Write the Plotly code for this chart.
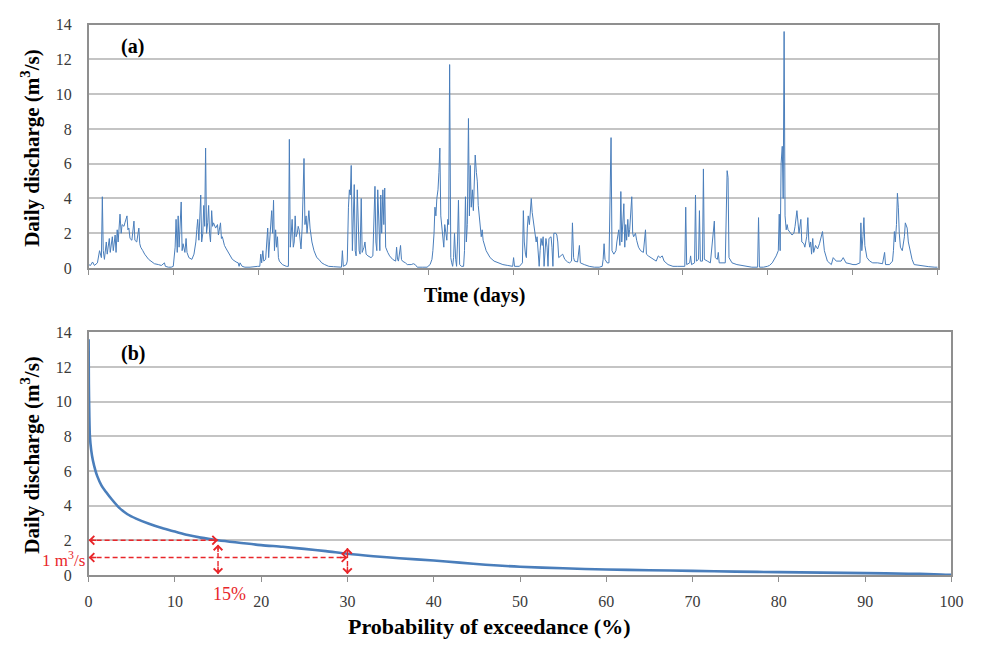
import plotly.graph_objects as go

# ---------------- data ----------------
# (a) daily discharge hydrograph: (day, discharge m3/s) vertices, ten years of record
hydrograph_pts = [
    # year 1
    (0, 0.2), (8, 0.15), (17, 0.35), (25, 0.15), (38, 0.3), (47, 1.0), (55, 0.6), (59, 4.1), (63, 1.0),
    (68, 0.5), (76, 1.5), (80, 0.8), (89, 1.7), (93, 0.9), (102, 1.8), (106, 1.0), (114, 1.9), (118, 0.9),
    (123, 2.2), (127, 1.5), (135, 3.1), (140, 2.0), (144, 2.5), (152, 2.4), (156, 2.6), (165, 3.0),
    (169, 2.2), (173, 2.3), (178, 1.7), (186, 1.6), (195, 2.7), (199, 1.6), (207, 1.5), (216, 2.3),
    (220, 1.4), (224, 1.2), (233, 1.0), (241, 0.8), (258, 0.5), (271, 0.35), (283, 0.25), (300, 0.2),
    (313, 0.15), (326, 0.3), (330, 0.1), (343, 0.05), (355, 0.05),
    # year 2
    (364, 0.1), (368, 0.5), (372, 1.2), (376, 2.8), (381, 0.9), (385, 3.0), (389, 1.2), (398, 3.8),
    (402, 1.0), (406, 1.4), (414, 0.9), (419, 1.7), (423, 0.9), (431, 0.6), (444, 0.5), (453, 0.8),
    (461, 1.5), (465, 2.2), (469, 2.8), (474, 1.6), (482, 4.2), (486, 1.5), (491, 2.0), (495, 3.6),
    (499, 2.4), (503, 6.9), (507, 2.0), (512, 2.6), (516, 3.6), (520, 2.0), (524, 1.5), (529, 3.3),
    (533, 2.4), (537, 2.6), (546, 2.3), (554, 2.5), (558, 1.9), (567, 2.6), (571, 1.7), (575, 1.8),
    (584, 1.3), (592, 1.1), (605, 0.8), (618, 0.5), (634, 0.35), (643, 0.3), (647, 0.1), (651, 0.3),
    (660, 0.1), (672, 0.05), (694, 0.05), (715, 0.1),
    # year 3
    (727, 0.1), (736, 0.1), (740, 0.8), (744, 0.3), (749, 1.0), (753, 0.4), (761, 0.5), (770, 2.3),
    (774, 0.6), (778, 1.5), (787, 3.3), (791, 2.0), (795, 3.9), (799, 1.0), (804, 2.2), (808, 1.2),
    (812, 1.8), (816, 0.6), (820, 0.4), (833, 0.2), (850, 0.1), (859, 0.1), (863, 7.4), (867, 1.2),
    (871, 2.0), (875, 2.8), (880, 1.2), (884, 1.5), (888, 3.0), (892, 1.8), (897, 2.0), (901, 2.4),
    (905, 2.2), (909, 1.6), (913, 1.1), (918, 2.3), (926, 6.3), (930, 2.5), (935, 3.0), (939, 2.0),
    (943, 2.5), (947, 3.3), (952, 2.3), (960, 1.5), (969, 1.0), (981, 0.6), (990, 0.5), (1002, 0.3),
    (1015, 0.2), (1032, 0.1), (1053, 0.08), (1074, 0.05), (1087, 0.05),
    # year 4
    (1091, 1.0), (1095, 0.1), (1108, 0.2), (1112, 0.4), (1117, 3.5), (1121, 4.5), (1125, 4.2),
    (1129, 5.9), (1134, 1.0), (1138, 3.5), (1142, 4.8), (1146, 1.0), (1150, 0.7), (1155, 4.5),
    (1159, 3.0), (1163, 1.0), (1167, 0.8), (1172, 4.0), (1176, 0.9), (1184, 1.2), (1188, 1.5),
    (1193, 0.8), (1201, 0.7), (1214, 0.6), (1222, 0.7), (1231, 4.7), (1235, 1.5), (1239, 1.0),
    (1243, 4.5), (1248, 2.0), (1252, 1.0), (1256, 4.2), (1260, 2.0), (1265, 4.5), (1269, 2.5),
    (1273, 4.6), (1277, 1.2), (1286, 0.9), (1294, 0.7), (1307, 0.5), (1320, 0.4), (1324, 1.2),
    (1328, 0.5), (1332, 0.4), (1341, 1.3), (1345, 0.5), (1349, 0.4), (1362, 0.3), (1370, 0.2),
    (1387, 0.2), (1396, 0.25), (1404, 0.2), (1413, 0.05), (1434, 0.05), (1455, 0.05),
    # year 5
    (1468, 0.2), (1476, 0.5), (1480, 1.0), (1485, 2.0), (1489, 3.5), (1493, 3.0), (1497, 4.0),
    (1502, 4.5), (1506, 5.5), (1510, 6.9), (1514, 3.0), (1519, 2.2), (1523, 1.5), (1527, 1.2),
    (1531, 2.5), (1535, 2.0), (1540, 1.6), (1544, 2.8), (1548, 2.5), (1552, 11.7), (1557, 0.6),
    (1561, 0.3), (1565, 0.1), (1569, 0.6), (1573, 2.0), (1578, 0.5), (1582, 0.1), (1586, 1.5),
    (1590, 3.9), (1595, 0.2), (1603, 0.1), (1612, 0.1), (1616, 1.0), (1620, 4.1), (1624, 1.5),
    (1628, 2.5), (1633, 8.6), (1637, 3.0), (1641, 5.9), (1645, 3.5), (1650, 4.5), (1654, 3.3),
    (1658, 5.5), (1662, 6.5), (1667, 5.5), (1671, 5.0), (1675, 3.6), (1679, 3.0), (1688, 1.8),
    (1692, 2.2), (1696, 1.6), (1709, 1.0), (1726, 0.6), (1743, 0.4), (1759, 0.3), (1781, 0.2),
    (1802, 0.15), (1823, 0.1), (1827, 0.6), (1831, 0.1),
    # year 6
    (1852, 0.1), (1865, 0.3), (1869, 3.3), (1873, 1.5), (1878, 0.8), (1882, 0.6), (1886, 2.3),
    (1890, 3.0), (1895, 2.5), (1899, 3.5), (1903, 4.0), (1907, 3.2), (1911, 2.8), (1916, 2.0),
    (1924, 1.5), (1928, 1.8), (1933, 1.0), (1937, 0.1), (1941, 1.0), (1945, 1.7), (1950, 1.3),
    (1954, 1.8), (1958, 0.1), (1962, 1.0), (1966, 1.7), (1971, 1.2), (1975, 0.1), (1979, 1.7),
    (1988, 1.8), (1992, 1.2), (1996, 0.1), (2000, 2.0), (2009, 2.0), (2013, 1.9), (2017, 1.5),
    (2021, 0.6), (2030, 0.7), (2038, 0.8), (2047, 0.5), (2059, 0.35), (2068, 0.3), (2076, 0.4),
    (2080, 2.6), (2085, 0.6), (2089, 0.4), (2102, 0.35), (2110, 1.3), (2114, 0.3), (2131, 0.2),
    (2152, 0.1), (2174, 0.05), (2195, 0.05),
    # year 7
    (2208, 0.1), (2212, 0.5), (2216, 1.4), (2220, 0.5), (2229, 0.3), (2237, 0.3), (2246, 7.5),
    (2250, 1.0), (2258, 0.8), (2267, 1.0), (2271, 1.5), (2279, 2.2), (2284, 1.3), (2288, 4.4),
    (2292, 1.5), (2296, 2.5), (2301, 3.7), (2305, 1.2), (2309, 2.5), (2313, 1.6), (2318, 2.8),
    (2322, 1.8), (2326, 2.2), (2335, 4.1), (2339, 2.0), (2343, 1.8), (2351, 2.0), (2356, 1.6),
    (2364, 1.2), (2373, 1.0), (2385, 0.9), (2394, 2.2), (2398, 0.8), (2406, 0.7), (2419, 0.6),
    (2432, 0.5), (2440, 0.4), (2449, 0.7), (2457, 0.6), (2466, 0.7), (2474, 0.4), (2491, 0.2),
    (2512, 0.1), (2533, 0.1), (2555, 0.1),
    # year 8
    (2563, 0.1), (2567, 3.5), (2571, 0.2), (2584, 0.3), (2588, 0.7), (2592, 0.2), (2605, 0.3),
    (2609, 4.2), (2613, 0.4), (2622, 0.5), (2626, 3.3), (2630, 0.4), (2639, 0.4), (2643, 5.7),
    (2647, 0.5), (2660, 0.4), (2673, 0.3), (2690, 2.7), (2694, 0.6), (2703, 0.5), (2707, 0.9),
    (2711, 0.3), (2724, 0.3), (2737, 0.3), (2745, 5.6), (2749, 5.2), (2753, 0.6), (2766, 0.3),
    (2787, 0.2), (2808, 0.15), (2830, 0.1), (2851, 0.05), (2876, 0.05), (2880, 2.9), (2884, 0.05),
    (2901, 0.05), (2918, 0.1),
    # year 9
    (2927, 0.15), (2939, 0.3), (2948, 0.5), (2956, 0.7), (2965, 1.0), (2969, 3.1), (2973, 1.0),
    (2977, 6.0), (2982, 7.0), (2986, 4.0), (2990, 13.6), (2994, 3.0), (2999, 2.2), (3003, 2.5),
    (3007, 2.2), (3016, 2.0), (3024, 1.9), (3032, 2.0), (3037, 2.4), (3045, 3.3), (3049, 2.5),
    (3054, 2.0), (3062, 2.8), (3066, 1.5), (3075, 1.4), (3079, 1.2), (3087, 1.8), (3092, 2.9),
    (3096, 1.6), (3100, 1.2), (3104, 1.5), (3108, 0.8), (3113, 1.7), (3117, 0.9), (3125, 1.3),
    (3134, 1.1), (3142, 1.4), (3155, 2.1), (3163, 1.0), (3176, 0.4), (3193, 0.2), (3201, 0.6),
    (3214, 0.4), (3235, 0.4), (3244, 0.6), (3256, 0.3), (3273, 0.25), (3286, 0.2),
    # year 10
    (3299, 0.2), (3316, 0.3), (3320, 2.6), (3324, 1.0), (3329, 1.8), (3333, 2.9), (3337, 1.3),
    (3346, 0.6), (3358, 0.4), (3371, 0.3), (3392, 0.3), (3413, 0.25), (3422, 0.9), (3426, 0.2),
    (3443, 0.2), (3456, 0.4), (3460, 1.0), (3464, 2.1), (3468, 1.5), (3473, 2.5), (3477, 4.3),
    (3481, 3.5), (3485, 2.0), (3490, 1.2), (3498, 1.0), (3507, 1.8), (3511, 2.6), (3519, 2.3),
    (3524, 1.5), (3532, 0.9), (3540, 0.5), (3549, 0.2), (3570, 0.15), (3591, 0.1), (3612, 0.08),
    (3638, 0.05), (3650, 0.05),
]
days = [p[0] for p in hydrograph_pts]
flow = [p[1] for p in hydrograph_pts]

# (b) flow duration curve
exceed_pct = [0, 0.03, 0.08, 0.15, 0.3, 0.5, 0.8, 1.0, 1.5, 2, 2.7, 3.5, 4.5, 5.5, 7, 8.5, 10,
              11.5, 13, 15, 17, 20, 22.5, 25, 27.5, 30, 33, 36, 40, 43, 46, 50, 55, 60, 65,
              70, 75, 80, 85, 90, 95, 98, 100]
fdc_flow = [13.6, 11.0, 9.3, 8.0, 7.2, 6.6, 6.0, 5.7, 5.15, 4.8, 4.35, 3.9, 3.5, 3.25, 2.95,
            2.7, 2.5, 2.3, 2.15, 2.0, 1.88, 1.72, 1.62, 1.5, 1.37, 1.22, 1.08, 0.96, 0.83, 0.71,
            0.59, 0.47, 0.38, 0.31, 0.27, 0.23, 0.19, 0.16, 0.13, 0.1, 0.07, 0.04, 0.0]

# reference readings marked on the duration curve
Q_HIGH = 2      # m3/s
Q_LOW = 1       # m3/s
P_HIGH = 15     # % exceedance of Q_HIGH
P_LOW = 30      # % exceedance of Q_LOW
V_TOP_HIGH = 1.75
V_TOP_LOW = 1.55

year_ticks = [365 * k for k in range(11)]
y_ticks = [0, 2, 4, 6, 8, 10, 12, 14]

# ---------------- styling ----------------
W, H = 989, 655
SERIF = "Liberation Serif"
BLUE = "#4A7EBB"
RED = "#E8262A"
GRID = "#c4c4c4"
FRAME = "#8f8f8f"
TICKFONT = dict(family=SERIF, size=16, color="#3a3a3a")


def px_x(px):
    return px / W


def px_y(py):
    return 1 - py / H


fig = go.Figure()

fig.add_trace(go.Scatter(x=days, y=flow, mode="lines", xaxis="x", yaxis="y",
                         line=dict(color=BLUE, width=1), showlegend=False, hoverinfo="skip"))

fig.add_trace(go.Scatter(x=exceed_pct, y=fdc_flow, mode="lines", xaxis="x2", yaxis="y2",
                         line=dict(color=BLUE, width=2.6, shape="spline", smoothing=0.8),
                         showlegend=False, hoverinfo="skip"))

dash_style = dict(color=RED, width=1.4, dash="5px,3px")
guide_lines = [
    ([0, P_HIGH], [Q_HIGH, Q_HIGH]),
    ([0, P_LOW], [Q_LOW, Q_LOW]),
    ([P_HIGH, P_HIGH], [0.05, V_TOP_HIGH]),
    ([P_LOW, P_LOW], [0.05, V_TOP_LOW]),
]
for gx, gy in guide_lines:
    fig.add_trace(go.Scatter(x=gx, y=gy, mode="lines", xaxis="x2", yaxis="y2",
                             line=dash_style, showlegend=False, hoverinfo="skip"))

common_y = dict(range=[0, 14], tickvals=y_ticks, showgrid=True, gridcolor=GRID, gridwidth=1.5,
                zeroline=False, showline=True, mirror=True, linecolor=FRAME, linewidth=1.5,
                ticks="", tickfont=TICKFONT, ticklabelstandoff=12, fixedrange=True)

fig.update_layout(
    width=W, height=H,
    margin=dict(l=0, r=0, t=0, b=0),
    paper_bgcolor="white", plot_bgcolor="white",
    xaxis=dict(domain=[px_x(86), px_x(949)], range=[0, 3650], tickvals=year_ticks,
               showticklabels=False, ticks="outside", ticklen=5, tickcolor=FRAME, tickwidth=1,
               showgrid=False, zeroline=False, showline=True, mirror=True,
               linecolor=FRAME, linewidth=1.5, anchor="y"),
    yaxis=dict(domain=[px_y(267), px_y(17)], anchor="x", **common_y),
    xaxis2=dict(domain=[px_x(86), px_x(963)], range=[0, 100], dtick=10, tick0=0,
                ticks="outside", ticklen=5, tickcolor=FRAME, tickwidth=1,
                showgrid=False, zeroline=False, showline=True, mirror=True,
                linecolor=FRAME, linewidth=1.5, tickfont=TICKFONT, ticklabelstandoff=6,
                anchor="y2"),
    yaxis2=dict(domain=[px_y(582), px_y(333)], anchor="x2", **common_y),
)

ann = []
title_font = dict(family=SERIF, size=20, color="black")


def label(text, x, y, size=20, **kw):
    d = dict(text=text, xref="paper", yref="paper", x=x, y=y, showarrow=False,
             xanchor="center", yanchor="middle", font=dict(title_font, size=size))
    d.update(kw)
    return d


ann.append(label("<b>Daily discharge (m<sup>3</sup>/s)</b>", px_x(27), px_y(144), size=21,
                 textangle=-90))
ann.append(label("<b>Daily discharge (m<sup>3</sup>/s)</b>", px_x(27), px_y(459), size=21,
                 textangle=-90))
ann.append(label("<b>Time (days)</b>", px_x(478), px_y(295)))
ann.append(label("<b>Probability of exceedance (%)</b>", px_x(493), px_y(635), size=22))
ann.append(label("<b>(a)</b>", px_x(131), px_y(40)))
ann.append(label("<b>(b)</b>", px_x(131), px_y(355)))

red_font = dict(family=SERIF, size=17, color=RED)
ann.append(dict(text=f"{Q_LOW} m<sup>3</sup>/s", xref="paper", yref="y2", x=px_x(84), y=Q_LOW,
                yshift=-1, xanchor="right", yanchor="middle", showarrow=False, font=red_font))
ann.append(dict(text=f"{P_HIGH}%", xref="x2", yref="y2", x=P_HIGH, y=0, xshift=11, yshift=-19,
                xanchor="center", yanchor="middle", showarrow=False,
                font=dict(red_font, size=18)))

# open arrow heads at the ends of the guide lines: (x, y, tail dx px, tail dy px)
heads = [
    (0, Q_HIGH, 9, 0), (P_HIGH, Q_HIGH, -9, 0),
    (0, Q_LOW, 9, 0), (P_LOW, Q_LOW, -9, 0),
    (P_HIGH, V_TOP_HIGH, 0, 9), (P_HIGH, 0.05, 0, -9),
    (P_LOW, V_TOP_LOW, 0, 9), (P_LOW, 0.05, 0, -9),
]
for hx, hy, dx, dy in heads:
    ann.append(dict(text="", xref="x2", yref="y2", x=hx, y=hy, ax=dx, ay=dy,
                    showarrow=True, arrowhead=4, arrowsize=1.2, arrowwidth=1.4,
                    arrowcolor=RED, standoff=0))

fig.update_layout(annotations=ann)

fig.write_html("out.html")
